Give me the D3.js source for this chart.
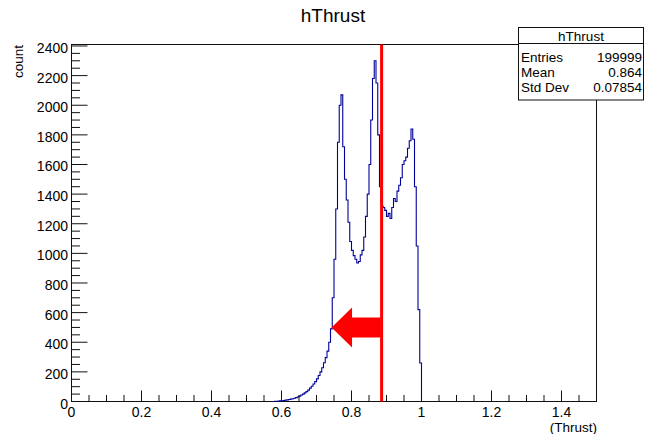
<!DOCTYPE html>
<html>
<head>
<meta charset="utf-8">
<script src="https://cdn.jsdelivr.net/npm/d3@7/dist/d3.min.js"></script>
<style>
  html, body { margin: 0; padding: 0; background: #fff; }
  svg { display: block; }
  text { font-family: "Liberation Sans", Arial, Helvetica, sans-serif; fill: #000; }
</style>
</head>
<body>
<svg id="chart" width="646" height="434"></svg>
<script>
// ---- data ----
const histTitle = "hThrust";
const xTitle = "(Thrust)";
const yTitle = "count";
const binStart = 0.58;
const binWidth = 0.005;
const counts = [
  2, 1, 3, 4, 5, 7, 9, 11, 13, 16,
  19, 22, 26, 30, 36, 44, 50, 58, 67, 77,
  90, 103, 118, 134, 153, 176, 200, 228, 262, 296,
  340, 400, 490, 700, 960, 1300, 1750, 2000, 2070, 1720,
  1500, 1360, 1210, 1080, 1020, 985, 960, 935, 945, 990,
  1020, 1110, 1250, 1400, 1600, 1900, 2180, 2300, 2150, 1800,
  1450, 1320, 1310, 1290, 1250, 1270, 1235, 1310, 1370, 1350,
  1420, 1460, 1510, 1600, 1625, 1650, 1710, 1760, 1840, 1770,
  1450, 1050, 620, 260
];
const xTickValues = [0, 0.2, 0.4, 0.6, 0.8, 1, 1.2, 1.4];
const xTickLabels = ["0", "0.2", "0.4", "0.6", "0.8", "1", "1.2", "1.4"];
const yTickValues = [0, 200, 400, 600, 800, 1000, 1200, 1400, 1600, 1800, 2000, 2200, 2400];
const statsLabels = ["Entries", "Mean", "Std Dev"];
const statsValues = ["199999", "0.864", "0.07854"];
const cutValue = 0.886;     // red vertical cut line
const arrowTip = [0.743, 500]; // red arrow tip (x, count)

// ---- scales ----
const svg = d3.select("#chart");
const x = d3.scaleLinear().domain([0, 1.5]).range([71.5, 596.5]);
const y = d3.scaleLinear().domain([0, 2410]).range([401.5, 44.5]);

// frame
svg.append("rect")
  .attr("x", x(0)).attr("y", y(2410))
  .attr("width", x(1.5) - x(0)).attr("height", y(0) - y(2410))
  .attr("fill", "none").attr("stroke", "#111").attr("stroke-width", 1);

// histogram step outline
const bins = counts.map((c, i) => ({ lo: binStart + i * binWidth, hi: binStart + (i + 1) * binWidth, c }));
let p = d3.path();
p.moveTo(x(bins[0].lo), y(0));
bins.forEach(b => { p.lineTo(x(b.lo), y(b.c)); p.lineTo(x(b.hi), y(b.c)); });
p.lineTo(x(bins[bins.length - 1].hi), y(0));
svg.append("path").attr("d", p.toString())
  .attr("fill", "none").attr("stroke", "#00009a").attr("stroke-width", 1.1);

// x axis ticks (inside, pointing up)
const xMinor = d3.range(0, 1.5 + 1e-9, 0.05);
svg.append("g").selectAll("line").data(xMinor).join("line")
  .attr("x1", d => x(d)).attr("x2", d => x(d))
  .attr("y1", y(0)).attr("y2", (d, i) => y(0) - (i % 4 === 0 ? 11 : 6.5))
  .attr("stroke", "#111").attr("stroke-width", 1);
svg.append("g").selectAll("text").data(xTickValues).join("text")
  .attr("x", d => x(d)).attr("y", 416.5)
  .attr("text-anchor", "middle").attr("font-size", 14)
  .text((d, i) => xTickLabels[i]);

// y axis ticks (inside, pointing right)
const yMinor = d3.range(0, 2400 + 1, 50);
svg.append("g").selectAll("line").data(yMinor).join("line")
  .attr("x1", x(0)).attr("x2", (d, i) => x(0) + (i % 4 === 0 ? 16 : 8.5))
  .attr("y1", d => y(d)).attr("y2", d => y(d))
  .attr("stroke", "#111").attr("stroke-width", 1);
svg.append("g").selectAll("text").data(yTickValues).join("text")
  .attr("x", 68).attr("y", d => y(d) + 7)
  .attr("text-anchor", "end").attr("font-size", 14)
  .text(d => d);

// axis titles
svg.append("text").attr("x", 597).attr("y", 431.5)
  .attr("text-anchor", "end").attr("font-size", 13.5).text(xTitle);
svg.append("text").attr("transform", "translate(23,45) rotate(-90)")
  .attr("text-anchor", "end").attr("font-size", 13.5).text(yTitle);

// title
svg.append("text").attr("x", 333).attr("y", 21.5)
  .attr("text-anchor", "middle").attr("font-size", 19).text(histTitle);

// red cut line
svg.append("line")
  .attr("x1", x(cutValue)).attr("x2", x(cutValue))
  .attr("y1", y(2410)).attr("y2", y(0))
  .attr("stroke", "#ff0000").attr("stroke-width", 3);

// red arrow pointing left
const tx = x(arrowTip[0]), ty = y(arrowTip[1]);
const bx = x(cutValue) - 1;
const headLen = 20.5, headHalf = 20, shaftHalf = 10;
svg.append("polygon")
  .attr("points", [
    [tx, ty], [tx + headLen, ty - headHalf], [tx + headLen, ty - shaftHalf],
    [bx, ty - shaftHalf], [bx, ty + shaftHalf], [tx + headLen, ty + shaftHalf],
    [tx + headLen, ty + headHalf]
  ].map(q => q.join(",")).join(" "))
  .attr("fill", "#ff0000");

// stats box
const sb = { x: 518.5, y: 27.5, w: 125, h: 72.5 };
svg.append("rect").attr("x", sb.x).attr("y", sb.y).attr("width", sb.w).attr("height", sb.h)
  .attr("fill", "#fff").attr("stroke", "#111").attr("stroke-width", 1);
svg.append("line").attr("x1", sb.x).attr("x2", sb.x + sb.w)
  .attr("y1", 43.5).attr("y2", 43.5).attr("stroke", "#111");
svg.append("text").attr("x", sb.x + sb.w / 2).attr("y", 41)
  .attr("text-anchor", "middle").attr("font-size", 13.5).text(histTitle);
statsLabels.forEach((l, i) => {
  const by = 61.5 + i * 15;
  svg.append("text").attr("x", 521).attr("y", by).attr("font-size", 13.5).text(l);
  svg.append("text").attr("x", 642).attr("y", by).attr("text-anchor", "end")
    .attr("font-size", 13.5).text(statsValues[i]);
});
</script>
</body>
</html>
